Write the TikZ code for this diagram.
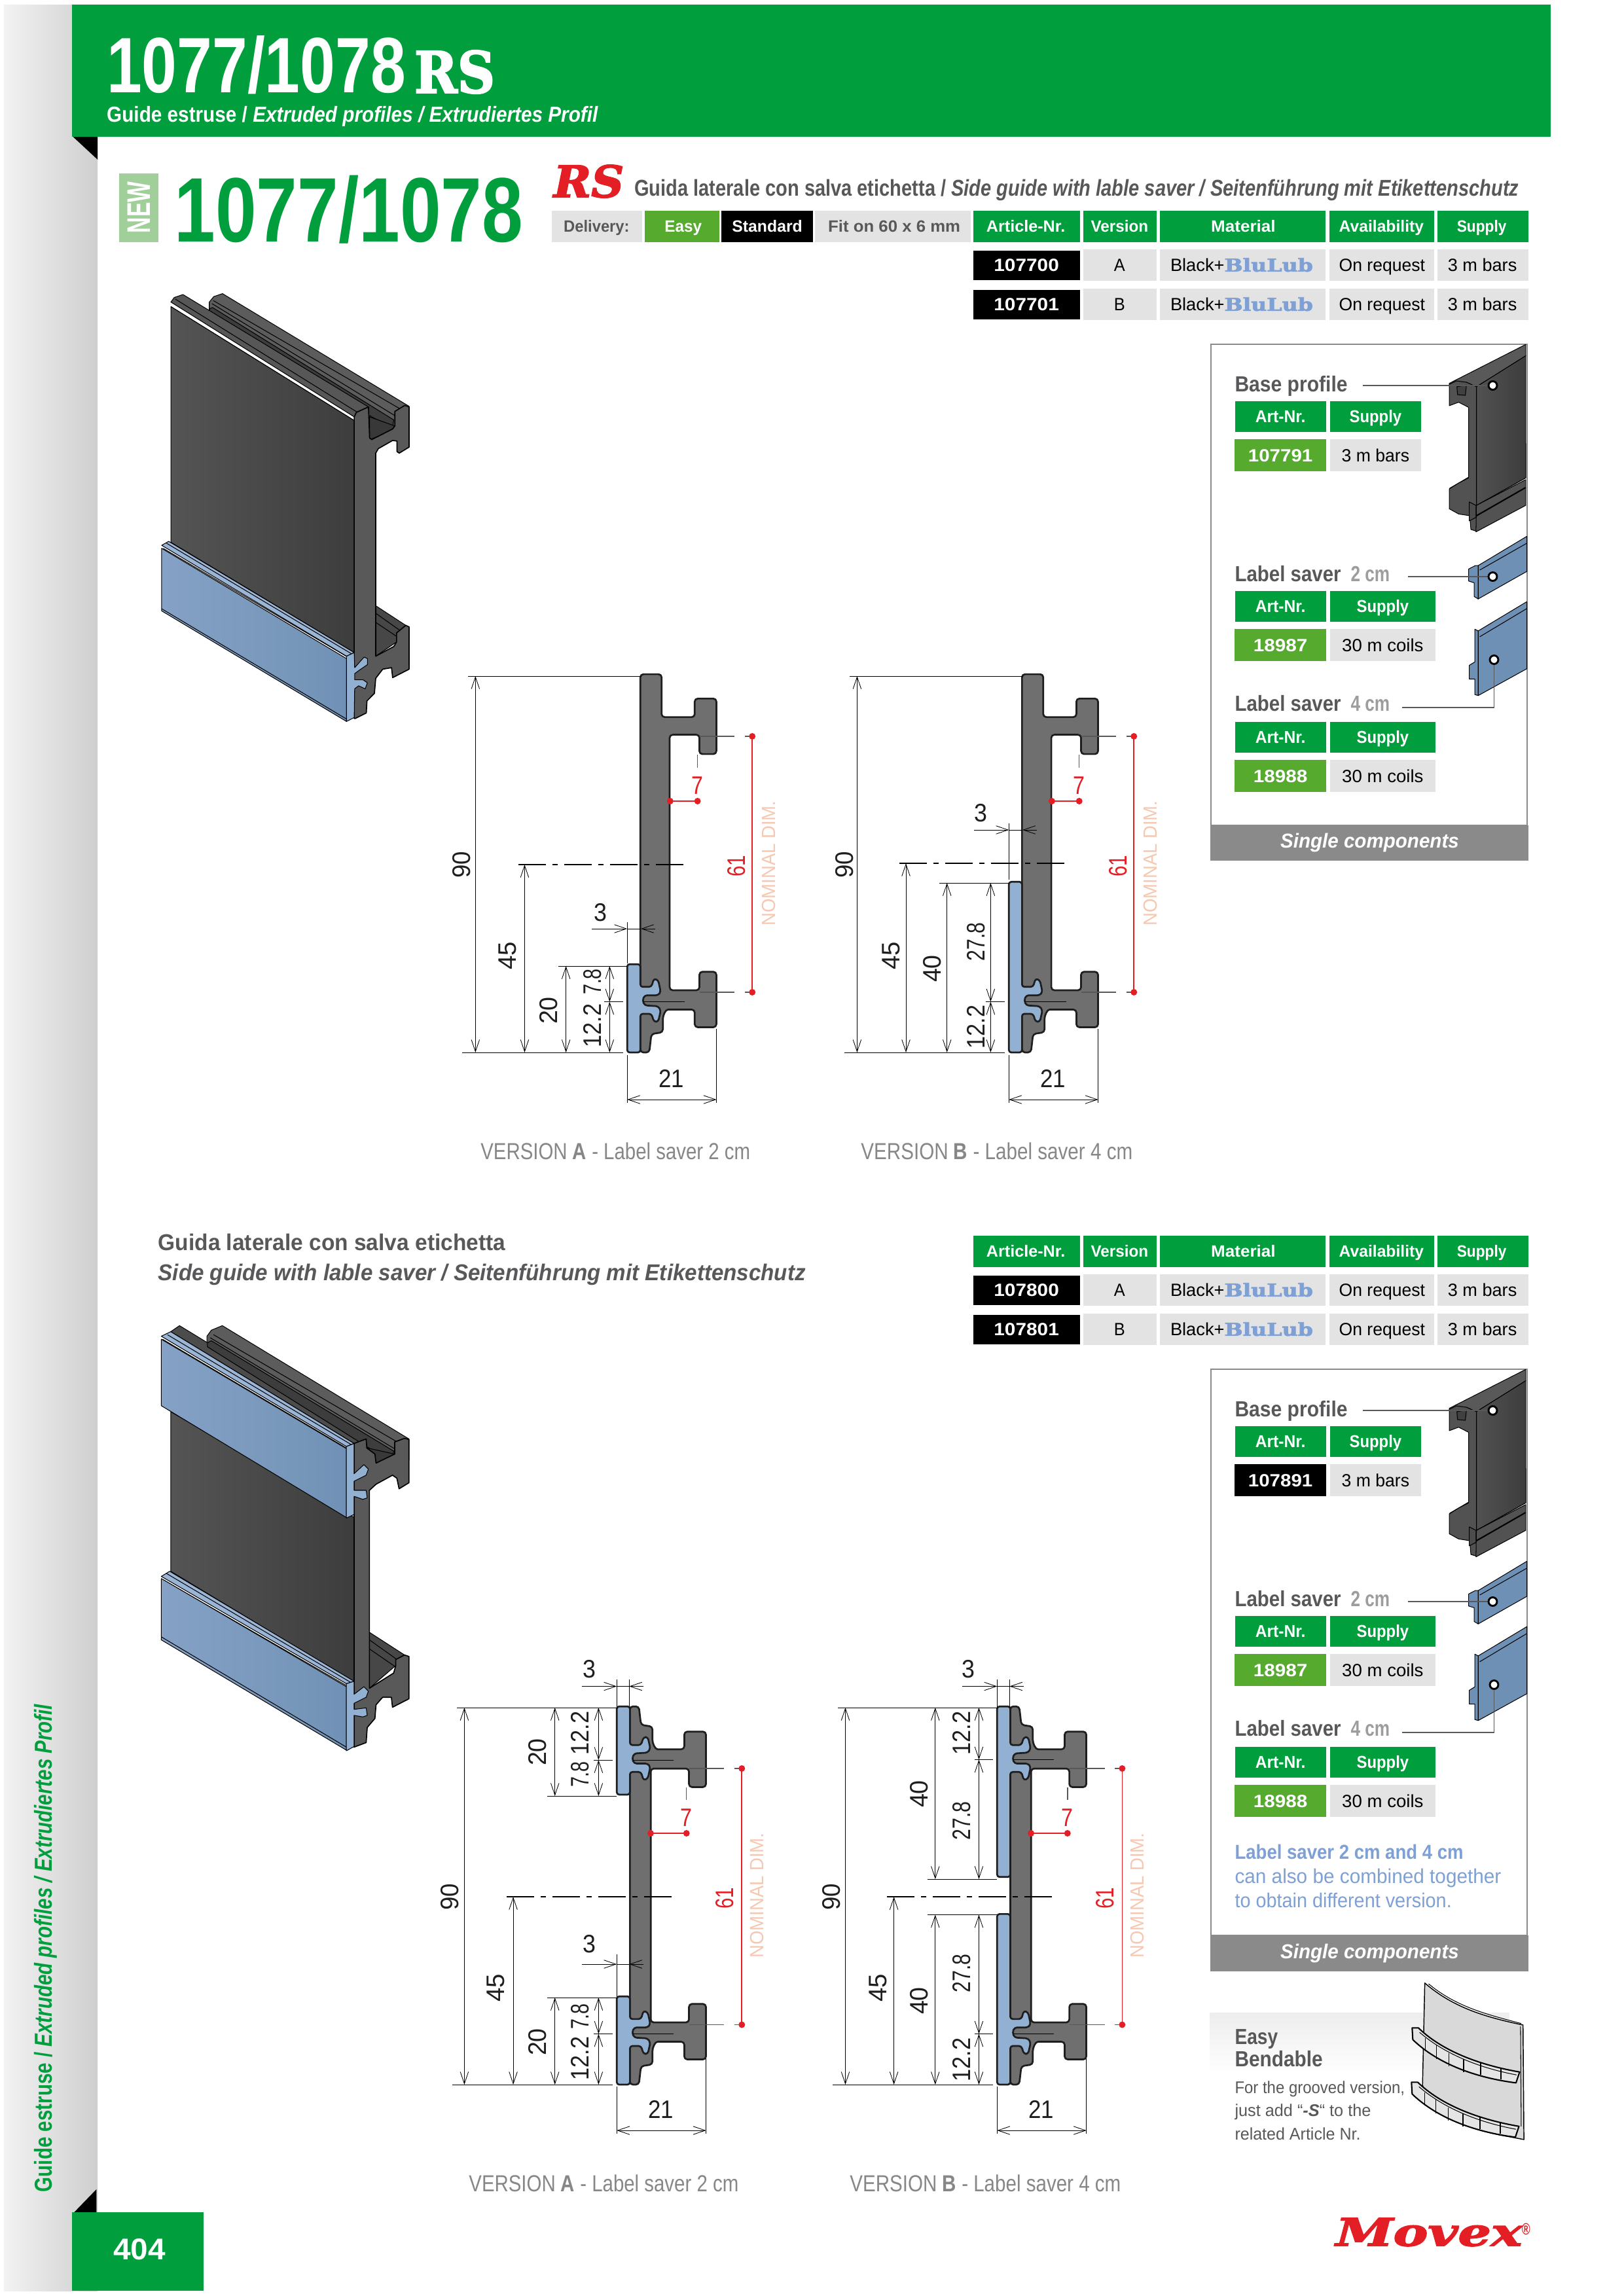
\documentclass[tikz,border=0pt]{standalone}
\usepackage{graphicx}
\usepackage{fontspec}
\setmainfont{Liberation Sans}
\newfontfamily\slab{DejaVu Serif}
\newfontfamily\slabh[BoldFeatures={FakeBold=2.5},BoldItalicFeatures={FakeBold=2.5}]{DejaVu Serif}
\usetikzlibrary{arrows.meta}
\definecolor{mgreen}{HTML}{009E3D}
\definecolor{lgreen}{HTML}{56AB2F}
\definecolor{pgreen}{HTML}{A0CF9A}
\definecolor{cellg}{HTML}{E3E3E3}
\definecolor{tgrey}{HTML}{58585A}
\definecolor{lgrey}{HTML}{9D9D9C}
\definecolor{capg}{HTML}{878787}
\definecolor{barg}{HTML}{8A8A8A}
\definecolor{mblue}{HTML}{7EA0D5}
\definecolor{mred}{HTML}{E31E24}
\definecolor{nomc}{HTML}{F6C8B2}
\definecolor{profg}{HTML}{6F6F6F}
\definecolor{profb}{HTML}{1E1E1E}
\definecolor{lblue}{HTML}{92B0D2}
\definecolor{isol}{HTML}{85A2C6}
\definecolor{isor}{HTML}{7091B5}
\definecolor{isot}{HTML}{9AB5D6}
\definecolor{smallb}{HTML}{6F90B5}
\newsavebox\fitbox
\newlength\fitlen
\newlength\capdim
\newcount\tncount
\newcommand\fsz[1]{\fontsize{#1pt}{#1pt}\selectfont}
\newcommand\fitw[2]{\sbox\fitbox{#2\global\capdim=\fontcharht\font`H\relax}\setlength\fitlen{\wd\fitbox}\pgfmathsetmacro\fitr{#1*0.2388/\fitlen}\smash{\raisebox{-0.5\capdim}{\scalebox{\fitr}[1]{\usebox\fitbox}}}}
\newcommand\TXT[7][0]{\global\advance\tncount by 1 \node[inner sep=0pt,outer sep=0pt,anchor=#2,rotate=#1,text=#6] (t\the\tncount) at (#3) {\fitw{#4}{#5#7}};}
\tikzset{
 prof/.style={fill=profg,draw=profb,line width=0.65pt,rounded corners=1.1pt,line join=round},
 bluep/.style={fill=lblue,draw=profb,line width=0.65pt,rounded corners=0.9pt,line join=round},
 dimline/.style={draw=black,line width=0.2pt,{Straight Barb[length=4.4pt,width=3pt,line width=0.2pt]}-{Straight Barb[length=4.4pt,width=3pt,line width=0.2pt]}},
 dimone/.style={draw=black,line width=0.2pt,-{Straight Barb[length=4.4pt,width=3pt,line width=0.2pt]}},
 extl/.style={draw=black,line width=0.2pt},
 lead/.style={draw=tgrey,line width=0.35pt},
 cline/.style={draw=black,line width=0.35pt,dash pattern=on 10pt off 2.4pt on 2pt off 2.4pt},
 iso/.style={draw=black,line width=0.25pt,line join=round},
 dotring/.style={fill=white,draw=black,line width=0.7pt},
}
% ---- profile parts (in mm) ----
\newcommand\halfprof[1]{\filldraw[prof] (#1,45)--(#1,14.8)--(17,14.8)--(17,19.2)--(21,19.2)--(21,6)--(15.9,6)--(15.9,10.2)--(10.3,10.2) .. controls (9,10.2) and (8.4,8.8) .. (8.4,7.2)--(8.4,4.8)--(5.7,4.4)--(5.2,0)--(3.1,0)--(3.1,45);}
\newcommand\topprof{\filldraw[prof] (10,45)--(10,75.6)--(17,75.6)--(17,71)--(21,71)--(21,84.2)--(15.9,84.2)--(15.9,79.8)--(8.1,79.8)--(8.1,90)--(3.1,90)--(3.1,45);}
\newcommand\clamp[1]{\filldraw[bluep] (0,#1)--(3.1,#1)--(3.1,15.6)--(5.7,15.6)--(6.3,17.6)--(7.3,17.2)--(7.9,14.4)--(7.3,13.6)--(4.1,13.6)--(3.6,12.4)--(4.1,11.2)--(7.3,11)--(7.9,10)--(7.3,7.3)--(6.3,7.3)--(5.7,9.2)--(3.1,9.2)--(3.1,0)--(0,0)--cycle;}
\newenvironment{mmscope}[1]{\begin{scope}[shift={(0,#1)},x=1.557pt,y=1.541pt]}{\end{scope}}
% ---- dimension helpers ----
\newcommand\dimV[3]{\draw[dimline] (#1,#2)--(#1,#3);}
\newcommand\extH[3]{\draw[extl] (#1,#3)--(#2,#3);}
\newcommand\extV[3]{\draw[extl] (#1,#2)--(#1,#3);}
\newcommand\DVer[4]{\TXT[90]{center}{#1,#2}{#3}{\fsz{9.3}}{profb}{#4}}
\newcommand\DHor[4]{\TXT{center}{#1,#2}{#3}{\fsz{9.3}}{profb}{#4}}
\newcommand\threed[2]{\draw[dimone] (-54,#1)--(0,#1);\draw[extl] (0,#1)--(#2,#1);\draw[dimone] ({#2+22},#1)--(#2,#1);}
\newcommand\widthd[3]{\draw[dimline] (0,#1)--(137,#1);\extV{0}{#2}{#1+5}\extV{137}{#3}{#1+5}\DHor{68}{#1-32}{39}{21}}
\newcommand\redd[4]{% ytop ybot labelx center
 \foreach \yy in {#1,#2}{\draw[lead] (111,\yy)--(165,\yy);\draw[lead] (181,\yy)--(192,\yy);\fill[mred] (192,\yy) circle (5);}
 \draw[mred,line width=0.4pt] (192,#1)--(192,#2);
 \TXT[90]{center}{#3,#4}{33}{\fsz{9.3}}{mred}{61}
 \TXT[90]{center}{#3+49,#4-4}{192}{\fsz{7}}{nomc}{NOMINAL DIM.}}
\newcommand\seven[5]{% xleft y tickt tickb extra
 \fill[mred] (#1,#2) circle (5);\fill[mred] (#1+42+#5,#2) circle (5);\draw[mred,line width=0.4pt] (#1,#2)--(#1+42+#5,#2);
 \TXT{center}{#1+42+#5,#2-24}{18}{\fsz{9.3}}{mred}{7}
 \draw[lead] (#1+42+#5,#3)--(#1+42+#5,#4);}
% ---- table ----
\newcommand\cell[5]{\fill[#5] (#1,#2) rectangle (#3,#4);}
\newcommand\tblhead[1]{
 \cell{1494}{322+#1}{1658}{370+#1}{mgreen}\cell{1663}{322+#1}{1776}{370+#1}{mgreen}\cell{1781}{322+#1}{2035}{370+#1}{mgreen}\cell{2041}{322+#1}{2202}{370+#1}{mgreen}\cell{2207}{322+#1}{2347}{370+#1}{mgreen}
 \TXT{center}{1575,{346+#1}}{121}{\fsz{6}\bfseries}{white}{Article-Nr.}
 \TXT{center}{1719,{346+#1}}{88}{\fsz{6}\bfseries}{white}{Version}
 \TXT{center}{1909,{346+#1}}{99}{\fsz{6}\bfseries}{white}{Material}
 \TXT{center}{2121,{346+#1}}{130}{\fsz{6}\bfseries}{white}{Availability}
 \TXT{center}{2275,{346+#1}}{76}{\fsz{6}\bfseries}{white}{Supply}}
\newcommand\tblrow[3]{
 \cell{1494}{383+#1}{1658}{428+#1}{black}
 \cell{1663}{381+#1}{1776}{429+#1}{cellg}\cell{1781}{381+#1}{2035}{429+#1}{cellg}\cell{2041}{381+#1}{2202}{429+#1}{cellg}\cell{2207}{381+#1}{2347}{429+#1}{cellg}
 \TXT{center}{1576,{405+#1}}{100}{\fsz{6.5}\bfseries}{white}{#2}
 \TXT{center}{1719,{405+#1}}{17}{\fsz{6.5}}{black}{#3}
 \TXT{west}{1797,{405+#1}}{83}{\fsz{6.5}}{black}{Black+}
 \TXT{west}{1880,{405+#1}}{136}{\slabh\bfseries\fsz{6.5}}{mblue}{BluLub}
 \TXT{center}{2122,{405+#1}}{132}{\fsz{6.5}}{black}{On request}
 \TXT{center}{2276,{405+#1}}{106}{\fsz{6.5}}{black}{3 m bars}}
% ---- component panel ----
\newcommand\artblock[8]{% ytop-head, right x, id, idcol, idw, sup, supw, supcx
 \cell{1896}{#1-1}{2036}{#1+46}{mgreen}\cell{2042}{#1-1}{#2}{#1+46}{mgreen}
 \TXT{center}{1966,{#1+22}}{77}{\fsz{6.3}\bfseries}{white}{Art-Nr.}
 \TXT{center}{#8,{#1+22}}{80}{\fsz{6.3}\bfseries}{white}{Supply}
 \cell{1895}{#1+57}{2036}{#1+106}{#4}\cell{2042}{#1+57}{#2}{#1+106}{cellg}
 \TXT{center}{1966,{#1+82}}{#5}{\fsz{6.5}\bfseries}{white}{#3}
 \TXT{center}{#8,{#1+82}}{#7}{\fsz{6.5}}{black}{#6}}
\newcommand\smallparts[1]{
 \begin{scope}[shift={(1851,#1)},x=0.0814pt,y=-0.1261pt]
  \filldraw[iso,fill=black!65] (1098,125)--(1442,12)--(1442,45)--(1220,135)--(1175,122)--(1098,130)--cycle;
  \filldraw[iso,fill=black!80] (1100,430)--(1140,415)--(1442,300)--(1442,400)--(1220,480)--(1190,470)--(1140,460)--cycle;
  \shade[iso,left color=black!68,right color=black!76] (1220,135)--(1442,45)--(1442,400)--(1220,480)--cycle;
  \filldraw[iso,fill=black!68] (1098,128)--(1130,118)--(1175,122)--(1220,135)--(1220,555)--(1195,550)--(1190,510)--(1140,505)--(1098,490)--(1098,432)--(1140,415)--(1185,400)--(1185,195)--(1140,180)--(1098,190)--cycle;
  \filldraw[iso,fill=black!75] (1132,135)--(1175,130)--(1170,160)--(1135,158)--cycle;
  \filldraw[iso,fill=black!68] (1220,480)--(1442,405)--(1442,480)--(1218,557)--cycle;
  \draw[iso,line width=0.5pt] (1215,512)--(1442,428);
  \filldraw[iso,fill=black!70] (1188,470)--(1218,480)--(1218,515)--(1188,525)--cycle;
  \filldraw[iso,fill=smallb] (1228,655)--(1447,570)--(1447,672)--(1228,752)--cycle;
  \filldraw[iso,fill=smallb] (1185,665)--(1215,655)--(1228,655)--(1228,752)--(1210,745)--(1210,705)--(1185,700)--cycle;
  \draw[iso] (1235,668)--(1447,590);
  \filldraw[iso,fill=smallb] (1228,845)--(1447,760)--(1447,955)--(1228,1033)--cycle;
  \filldraw[iso,fill=smallb] (1213,840)--(1228,845)--(1228,1033)--(1213,1030)--(1213,985)--(1188,985)--(1188,945)--(1213,935)--cycle;
  \draw[iso] (1235,862)--(1447,780);
 \end{scope}}
\newcommand\panel[5]{% dy bartop barbot id idcol
 \draw[barg,line width=0.5pt] (1859,{526+#1})--(2345,{526+#1})--(2345,#2)--(1859,#2)--cycle;
 \cell{1858}{#2}{2347}{#3}{barg}
 \TXT{center}{2103,{(#2+#3)/2-3}}{274}{\fsz{7.4}\bfseries\itshape}{white}{Single components}
 \smallparts{520+#1}
 \TXT{west}{1896,{587+#1}}{173}{\fsz{8}\bfseries}{tgrey}{Base profile}
 \draw[lead] (2092,{589+#1})--(2292,{589+#1});
 \filldraw[dotring] (2292,{589+#1}) circle (6.5);
 \artblock{614+#1}{2182}{#4}{#5}{99}{3 m bars}{104}{2112}
 \TXT{west}{1896,{877+#1}}{163}{\fsz{8}\bfseries}{tgrey}{Label saver}
 \TXT{west}{2074,{877+#1}}{60}{\fsz{8}\bfseries}{lgrey}{2 cm}
 \draw[lead] (2162,{881+#1})--(2292,{881+#1});
 \filldraw[dotring] (2292,{881+#1}) circle (6.5);
 \artblock{904+#1}{2204}{18987}{lgreen}{83}{30 m coils}{125}{2123}
 \TXT{west}{1896,{1075+#1}}{163}{\fsz{8}\bfseries}{tgrey}{Label saver}
 \TXT{west}{2074,{1075+#1}}{60}{\fsz{8}\bfseries}{lgrey}{4 cm}
 \draw[lead] (2153,{1081+#1})--(2294,{1081+#1})--(2294,{1008+#1});
 \filldraw[dotring] (2294,{1008+#1}) circle (6.5);
 \artblock{1104+#1}{2204}{18988}{lgreen}{83}{30 m coils}{125}{2123}}
\begin{document}
\begin{tikzpicture}[x=0.2388pt,y=-0.24pt]
\useasboundingbox (0,0) rectangle (2493.5,3508);
\fill[white] (0,0) rectangle (2493.5,3508);
% side band
\shade[left color=black!5,right color=black!19] (6,8) rectangle (150,3500);
\fill[black] (111,208)--(150,208)--(150,244)--cycle;
\fill[black] (111,3383)--(148,3345)--(148,3383)--cycle;
\fill[mgreen] (111,7) rectangle (2381,209);
\fill[mgreen] (111,3380) rectangle (313,3500);
\TXT{center}{214,3437}{80}{\fsz{11}\bfseries}{white}{404}
\TXT[90]{west}{67,3349}{749}{\fsz{9}\bfseries}{mgreen}{Guide estruse / {\itshape Extruded profiles / Extrudiertes Profil}}
% header
\TXT{west}{164,100}{459}{\fsz{28.8}\bfseries}{white}{1077/1078}
\TXT{west}{636,110}{124}{\slabh\bfseries\fsz{21}}{white}{RS}
\TXT{west}{164,175}{754}{\fsz{8}\bfseries}{white}{Guide estruse / {\itshape Extruded profiles / Extrudiertes Profil}}
% new + number
\fill[pgreen] (183,265) rectangle (243,370);
\TXT[90]{center}{213,317}{79}{\fsz{12}\bfseries}{white}{NEW}
\TXT{west}{268,321}{535}{\fsz{33.6}\bfseries}{mgreen}{1077/1078}
\TXT{west}{850,277}{108}{\slabh\bfseries\itshape\fsz{16}}{mred}{RS}
\TXT{west}{974,287}{1358}{\fsz{8.4}\bfseries}{tgrey}{Guida laterale con salva etichetta / {\itshape Side guide with lable saver / Seitenführung mit Etikettenschutz}}
% delivery row
\cell{847}{322}{986}{370}{cellg}\cell{990}{322}{1105}{370}{lgreen}\cell{1108}{322}{1248}{370}{black}\cell{1251}{322}{1490}{370}{cellg}
\TXT{center}{916,346}{101}{\fsz{6}\bfseries}{tgrey}{Delivery:}
\TXT{center}{1049,346}{57}{\fsz{6}\bfseries}{white}{Easy}
\TXT{center}{1178,346}{108}{\fsz{6}\bfseries}{white}{Standard}
\TXT{center}{1373,346}{203}{\fsz{6}\bfseries}{tgrey}{Fit on 60 x 6 mm}
\tblhead{0}
\tblrow{0}{107700}{A}
\tblrow{60}{107701}{B}
\tblhead{1566}
\tblrow{1566}{107800}{A}
\tblrow{1626}{107801}{B}
\TXT{west}{243,1898}{533}{\fsz{8.4}\bfseries}{tgrey}{Guida laterale con salva etichetta}
\TXT{west}{243,1944}{994}{\fsz{8.4}\bfseries\itshape}{tgrey}{Side guide with lable saver / Seitenführung mit Etikettenschutz}
% panels
\panel{0}{1261}{1315}{107791}{lgreen}
\panel{1566}{2957}{3012}{107891}{black}
\TXT{west}{1896,2830}{351}{\fsz{7.4}\bfseries}{mblue}{Label saver 2 cm and 4 cm}
\TXT{west}{1896,2867}{409}{\fsz{7.4}}{mblue}{can also be combined together}
\TXT{west}{1896,2904}{333}{\fsz{7.4}}{mblue}{to obtain different version.}
% easy bendable
\shade[top color=black!7,bottom color=white] (1858,3075) rectangle (2317,3170);
\TXT{west}{1896,3112}{66}{\fsz{8}\bfseries}{tgrey}{Easy}
\TXT{west}{1896,3146}{135}{\fsz{8}\bfseries}{tgrey}{Bendable}
\TXT{west}{1896,3190}{261}{\fsz{6.2}}{tgrey}{For the grooved version,}
\TXT{west}{1896,3225}{209}{\fsz{6.2}}{tgrey}{just add “{\bfseries\itshape -S}“ to the}
\TXT{west}{1896,3261}{193}{\fsz{6.2}}{tgrey}{related Article Nr.}
\begin{scope}[shift={(1852,2800)},x=0.0828pt,y=-0.1077pt]
 \filldraw[iso,fill=black!15,line width=0.35pt] (968,512) .. controls (1100,600) and (1250,630) .. (1403,655)--(1407,1045)--(1340,1035) .. controls (1150,1010) and (1000,960) .. (958,860)--cycle;
 \draw[iso] (985,515) .. controls (1110,595) and (1250,620) .. (1395,650);
 \draw[iso] (1392,660)--(1395,1000);
 \foreach \dy/\dx in {0/0,185/-3}{
 \begin{scope}[shift={(\dx,\dy)}]
  \filldraw[iso,fill=black!10,line width=0.5pt] (912,665)--(940,665) .. controls (1040,740) and (1200,790) .. (1388,815)--(1372,852) .. controls (1200,835) and (1030,790) .. (915,705)--cycle;
  \draw[iso] (945,680) .. controls (1050,750) and (1200,800) .. (1375,825);
  \foreach \xs/\ya/\yb in {970/700/745,1020/725/770,1075/750/795,1140/770/815,1215/785/825,1305/800/840}{\draw[iso,line width=0.35pt] (\xs,\ya)--(\xs,\yb);}
 \end{scope}}
\end{scope}
% logo
\TXT{west}{2051,3410}{286}{\slabh\bfseries\itshape\fsz{14}}{mred}{Movex}
\TXT{center}{2343,3406}{13}{\fsz{6}\bfseries}{mred}{®}
% ===== 3D top =====
\begin{scope}[shift={(200,420)},x=0.0805pt,y=-0.1108pt]
 \filldraw[iso,fill=black!64] (360,90)--(380,72)--(420,62)--(1270,435)--(1270,510)--(1205,510)--(1090,470)--(360,130)--cycle;
 \filldraw[iso,fill=black!76] (362,112)--(375,108)--(1200,480)--(1195,505)--(1100,470)--(362,125)--cycle;
 \draw[iso] (378,85)--(1240,448);\draw[iso] (372,95)--(1210,468);
 \filldraw[iso,fill=black!78] (1090,470)--(1205,500)--(1205,515)--(1090,545)--cycle;
 \filldraw[iso,fill=black!66] (185,90)--(200,75)--(240,65)--(1085,437)--(1030,455)--(1020,470)--cycle;
 \draw[iso] (205,80)--(1035,455);\draw[iso] (185,105)--(1020,482);
 \shade[iso,left color=black!67,right color=black!76] (185,105)--(1020,482)--(1020,1250)--(185,885)--cycle;
 \filldraw[iso,fill=black!72] (1118,1095)--(1255,1160)--(1213,1185)--(1213,1215)--(1118,1262)--cycle;
 \draw[iso] (1118,1120)--(1225,1175);\draw[iso] (1118,1150)--(1210,1195);
 \filldraw[iso,fill=black!65,line width=0.4pt] (1020,470)--(1030,455)--(1085,437)--(1090,540)--(1100,545)--(1195,510)--(1205,500)--(1205,452)--(1250,432)--(1270,437)--(1270,570)--(1225,590)--(1215,585)--(1215,550)--(1195,548)--(1130,575)--(1118,590)--(1118,1262)--(1200,1230)--(1213,1215)--(1213,1185)--(1255,1160)--(1270,1165)--(1270,1305)--(1195,1333)--(1190,1300)--(1150,1305)--(1118,1335)--(1112,1385)--(1078,1410)--(1075,1450)--(1025,1468)--(1020,1468)--cycle;
 \filldraw[iso,fill=isot] (143,895)--(175,882)--(1020,1250)--(985,1262)--cycle;
 \draw[iso] (150,905)--(990,1265);\draw[iso] (165,888)--(1010,1255);
 \shade[iso,left color=isol,right color=isor] (143,905)--(985,1270)--(985,1478)--(143,1112)--cycle;
 \draw[iso] (143,1105)--(985,1470);
 \filldraw[iso,fill=lblue] (985,1262)--(1020,1250)--(1022,1300)--(1065,1265)--(1080,1270)--(1080,1290)--(1040,1310)--(1022,1320)--(1022,1340)--(1060,1340)--(1080,1350)--(1070,1370)--(1040,1360)--(1022,1370)--(1020,1465)--(985,1478)--cycle;
\end{scope}
% ===== 3D bottom =====
\begin{scope}[shift={(220,2000)},x=0.0805pt,y=-0.1108pt]
 \filldraw[iso,fill=black!64] (290,90)--(310,70)--(360,55)--(1210,430)--(1210,500)--(1060,510)--(290,120)--cycle;
 \filldraw[iso,fill=black!70] (125,75)--(165,55)--(1010,430)--(1060,500)--(960,445)--cycle;
 \filldraw[iso,fill=black!76] (292,112)--(310,105)--(1140,470)--(1135,500)--(1050,470)--(292,125)--cycle;
 \draw[iso] (320,85)--(1180,450);\draw[iso] (305,95)--(1150,465);
 \filldraw[iso,fill=black!78] (1020,460)--(1145,480)--(1060,515)--cycle;
 \shade[iso,left color=black!67,right color=black!76] (125,340)--(960,690)--(960,1235)--(125,868)--cycle;
 \filldraw[iso,fill=black!72] (1030,1070)--(1190,1145)--(1150,1160)--(1150,1180)--(1030,1255)--cycle;
 \draw[iso] (1030,1095)--(1165,1165);\draw[iso] (1030,1125)--(1150,1185);
 \filldraw[iso,fill=black!65,line width=0.4pt] (960,445)--(1015,430)--(1018,460)--(1055,480)--(1060,510)--(1145,480)--(1145,440)--(1190,428)--(1210,432)--(1210,575)--(1165,595)--(1155,560)--(1135,550)--(1060,580)--(1030,600)--(1030,1255)--(1140,1205)--(1150,1180)--(1150,1160)--(1190,1145)--(1210,1150)--(1210,1290)--(1135,1318)--(1130,1285)--(1090,1285)--(1060,1310)--(1055,1355)--(1020,1385)--(1015,1435)--(960,1450)--cycle;
 \filldraw[iso,fill=isot] (82,90)--(125,75)--(960,445)--(925,455)--cycle;
 \draw[iso] (88,100)--(930,462);\draw[iso] (110,85)--(950,450);
 \shade[iso,left color=isol,right color=isor] (82,100)--(925,462)--(925,690)--(82,320)--cycle;
 \filldraw[iso,fill=lblue] (925,455)--(960,445)--(960,545)--(1005,515)--(1025,530)--(1015,550)--(960,570)--(960,600)--(1015,600)--(1020,625)--(1000,630)--(960,620)--(960,680)--(925,692)--cycle;
 \filldraw[iso,fill=isot] (82,885)--(120,868)--(960,1232)--(925,1240)--cycle;
 \draw[iso] (88,895)--(930,1248);\draw[iso] (105,875)--(950,1238);
 \shade[iso,left color=isol,right color=isor] (82,892)--(925,1250)--(925,1460)--(82,1095)--cycle;
 \draw[iso] (82,1085)--(925,1450);
 \filldraw[iso,fill=lblue] (925,1240)--(960,1232)--(960,1275)--(1005,1250)--(1025,1265)--(1015,1285)--(960,1305)--(960,1325)--(1015,1320)--(1020,1345)--(1000,1350)--(960,1345)--(960,1448)--(925,1462)--cycle;
\end{scope}
% ===== Version A (top) =====
\begin{scope}[shift={(963,0)}]
 \begin{mmscope}{1608}\halfprof{10}\topprof\clamp{21}\end{mmscope}
 \extH{-244}{22}{1033}\extH{-253}{-6}{1608}
 \dimV{-233}{1033}{1608}\DVer{-254}{1321}{41}{90}
 \draw[cline] (-167,1321)--(88,1321);
 \dimV{-157.5}{1321}{1608}\DVer{-184}{1460}{43}{45}
 \extH{-106}{0}{1476}\dimV{-94}{1476}{1608}\DVer{-121}{1544}{42}{20}
 \dimV{-27}{1476}{1530.5}\dimV{-27}{1530.5}{1608}\extH{-35}{-6}{1530.5}\extH{25}{88}{1530.5}
 \DVer{-53}{1500}{40}{7.8}\DVer{-53}{1567}{67}{12.2}
 \threed{1419}{21}\extV{0}{1409}{1472}\DHor{-41}{1394}{20}{3}
 \widthd{1680}{1612}{1572}
 \redd{1125}{1516}{168}{1323}
 \seven{66}{1224}{1153}{1173}{0}
 \TXT{west}{-225,1759}{414}{\fsz{8.5}}{capg}{VERSION {\bfseries A} - Label saver 2 cm}
\end{scope}
% ===== Version B (top) =====
\begin{scope}[shift={(1549,0)}]
 \begin{mmscope}{1608}\halfprof{10}\topprof\clamp{40.6}\end{mmscope}
 \extH{-244}{22}{1033}\extH{-253}{-6}{1608}
 \dimV{-233}{1033}{1608}\DVer{-252}{1321}{41}{90}
 \draw[cline] (-168,1319)--(87,1319);
 \dimV{-158}{1319}{1608}\DVer{-181}{1460}{43}{45}
 \extH{-107}{0}{1349}\dimV{-95}{1349}{1608}\DVer{-118}{1480}{42}{40}
 \dimV{-28}{1349}{1530.5}\dimV{-28}{1530.5}{1608}\extH{-35}{-6}{1530.5}\extH{25}{88}{1530.5}
 \DVer{-50}{1439}{59}{27.8}\DVer{-50}{1569}{67}{12.2}
 \threed{1268}{21}\extV{0}{1258}{1344}\DHor{-43}{1242}{20}{3}
 \widthd{1680}{1612}{1572}
 \redd{1125}{1516}{168}{1323}
 \seven{66}{1224}{1153}{1173}{0}
 \TXT{west}{-227,1759}{417}{\fsz{8.5}}{capg}{VERSION {\bfseries B} - Label saver 4 cm}
\end{scope}
% ===== Version A (bottom) =====
\begin{scope}[shift={(947,0)}]
 \begin{mmscope}{3185}\halfprof{8}\begin{scope}[shift={(0,90)},yscale=-1]\halfprof{8}\clamp{21}\end{scope}\clamp{21}\end{mmscope}
 \extH{-245}{2}{2609}\extH{-253}{-6}{3185}
 \dimV{-234}{2609}{3185}\DVer{-256}{2898}{41}{90}
 \draw[cline] (-169,2898)--(87,2898);
 \dimV{-159}{2898}{3185}\DVer{-186}{3037}{43}{45}
 \dimV{-95}{2609}{2744}\extH{-107}{0}{2744}\DVer{-122}{2677}{42}{20}
 \dimV{-28}{2609}{2689}\dimV{-28}{2689}{2744}\extH{-35}{-6}{2689}\extH{25}{87}{2689}
 \DVer{-56}{2648}{67}{12.2}\DVer{-56}{2711}{40}{7.8}
 \dimV{-95}{3052}{3185}\extH{-107}{0}{3052}\DVer{-122}{3120}{42}{20}
 \dimV{-28}{3052}{3107.5}\dimV{-28}{3107.5}{3185}\extH{-35}{-6}{3107.5}\extH{25}{87}{3107.5}
 \DVer{-56}{3081}{40}{7.8}\DVer{-56}{3145}{67}{12.2}
 \threed{2576.5}{19}\extV{0}{2566}{2609}\extV{19}{2566}{2609}\DHor{-42}{2550}{20}{3}
 \threed{3001}{19}\extV{0}{2986}{3052}\DHor{-42}{2970}{20}{3}
 \widthd{3255}{3188}{3145}
 \redd{2702}{3093.5}{166}{2900}
 \seven{52}{2801}{2731}{2750}{13}
 \TXT{west}{-227,3336}{414}{\fsz{8.5}}{capg}{VERSION {\bfseries A} - Label saver 2 cm}
\end{scope}
% ===== Version B (bottom) =====
\begin{scope}[shift={(1531,0)}]
 \begin{mmscope}{3185}\halfprof{8}\begin{scope}[shift={(0,90)},yscale=-1]\halfprof{8}\clamp{40.6}\end{scope}\clamp{40.6}\end{mmscope}
 \extH{-245}{2}{2609}\extH{-253}{-6}{3185}
 \dimV{-233}{2609}{3185}\DVer{-254}{2898}{41}{90}
 \draw[cline] (-169,2898)--(87,2898);
 \dimV{-158.5}{2898}{3185}\DVer{-183}{3037}{43}{45}
 \dimV{-95}{2609}{2871}\extH{-107}{0}{2871}\DVer{-120}{2741}{42}{40}
 \dimV{-28}{2609}{2688.5}\dimV{-28}{2688.5}{2871}\extH{-35}{-6}{2688.5}\extH{25}{87}{2688.5}
 \DVer{-54}{2648}{67}{12.2}\DVer{-54}{2782}{59}{27.8}
 \dimV{-95}{2925.5}{3185}\extH{-107}{0}{2925.5}\DVer{-120}{3057}{42}{40}
 \dimV{-28}{2925.5}{3107.5}\dimV{-28}{3107.5}{3185}\extH{-35}{-6}{3107.5}\extH{25}{87}{3107.5}
 \DVer{-54}{3015}{59}{27.8}\DVer{-54}{3147}{67}{12.2}
 \threed{2576.5}{19}\extV{0}{2566}{2609}\extV{19}{2566}{2609}\DHor{-44}{2550}{20}{3}
 \widthd{3255}{3188}{3145}
 \redd{2702}{3093.5}{166}{2900}
 \seven{52}{2801}{2731}{2750}{14}
 \TXT{west}{-226,3336}{416}{\fsz{8.5}}{capg}{VERSION {\bfseries B} - Label saver 4 cm}
\end{scope}
\end{tikzpicture}
\end{document}
